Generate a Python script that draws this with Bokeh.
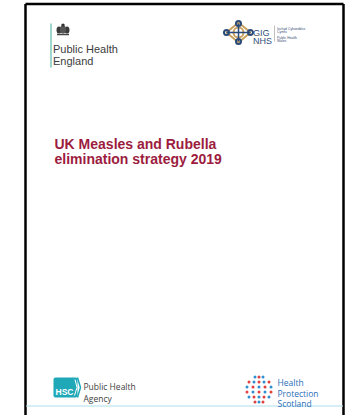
from bokeh.plotting import figure
from bokeh.embed import file_html
from bokeh.resources import INLINE
from bokeh.core.properties import value

# ---- content (texts) ----
phe_lines = ["Public Health", "England"]
title_lines = ["UK Measles and Rubella", "elimination strategy 2019"]
wales_big = ["GIG", "NHS"]
wales_small = ["CYMRU", "WALES"]
wales_side = ["Iechyd Cyhoeddus", "Cymru", "Public Health", "Wales"]
hsc_lines = ["Public Health", "Agency"]
hps_lines = ["Health", "Protection", "Scotland"]

W, H = 349, 415
p = figure(width=W, height=H, x_range=(0, W), y_range=(H, 0),
           output_backend="svg", toolbar_location=None,
           min_border=0, min_border_left=0, min_border_right=0,
           min_border_top=0, min_border_bottom=0)
p.axis.visible = False
p.grid.visible = False
p.outline_line_color = None
p.background_fill_color = "white"
p.border_fill_color = "white"

# page border (black) and faint bottom line
p.line([25, 25], [3.5, 420], line_color="black", line_width=2.5)
p.line([25, 343], [3.5, 3.5], line_color="black", line_width=2.5)
p.line([343, 343], [3.5, 420], line_color="black", line_width=2.5)
p.line([26, 342], [405.5, 405.5], line_color="#d6eef6", line_width=2)

# ---- Public Health England ----
p.line([50.5, 50.5], [23, 67], line_color="#7cc8bd", line_width=1.5)
# crest (approximation)
p.ellipse([58.5, 66.5], [29.5, 29.5], width=5, height=7, fill_color="#3a3a3a", line_color=None)
p.ellipse([62.5], [29], width=6, height=8, fill_color="#555555", line_color=None)
p.ellipse([62.5], [24.5], width=3.5, height=3, fill_color="#333333", line_color=None)
p.rect([62.5], [34], width=12, height=1.5, fill_color="#444444", line_color=None)
ph_font = value("Liberation Sans")
p.text([52.5, 52.5], [48.5, 60], text=phe_lines, text_font=ph_font, text_font_size="11px",
       text_color="#3c3c3c", text_baseline="alphabetic")

# ---- NHS Wales logo ----
cx, cy = 238, 32
p.patch([cx, cx + 12, cx, cx - 12], [cy - 10, cy, cy + 10, cy], fill_color=None,
        line_color="#c9a260", line_width=2)
p.ellipse([cx], [cy], width=10, height=10, fill_color=None, line_color="#c9a260", line_width=2)
p.ellipse([cx, cx + 12, cx, cx - 12], [cy - 9, cy, cy + 9, cy], width=5, height=5,
          fill_color=None, line_color="#2a4a7a", line_width=2)
p.line([cx - 12, cx + 12], [cy, cy], line_color="#2a4a7a", line_width=1.5)
p.line([cx, cx], [cy - 9, cy + 9], line_color="#2a4a7a", line_width=1.5)
p.text([252.5, 252.5], [32, 40.5], text=wales_big, text_font=value("Liberation Sans"),
       text_font_size="9px", text_color="#2f4f80", text_baseline="alphabetic")
p.text([253, 253], [34.5, 43], text=wales_small, text_font=value("Liberation Sans"),
       text_font_size="2.5px", text_color="#c9a260", text_baseline="alphabetic")
p.line([274, 274], [25, 41], line_color="#b0b0b0", line_width=0.8)
p.text([276.5] * 4, [28.5, 31.5, 37, 40], text=wales_side, text_font=value("Liberation Sans"),
       text_font_size="3.4px", text_color="#3a4f78", text_baseline="alphabetic")

# ---- Title ----
p.text([54, 54], [143.5, 158], text=title_lines, text_font=value("Liberation Sans"),
       text_font_size="14px", text_font_style="bold", text_color="#9c1c40",
       text_baseline="alphabetic")

# ---- HSC Public Health Agency ----
p.quad(left=[53], right=[77], top=[377], bottom=[397], fill_color="#1fa8b8",
       line_color=None, border_radius=2)
p.text([55], [391], text=["HSC"], text_font=value("Liberation Sans"), text_font_size="8.5px",
       text_font_style="bold", text_color="white", text_baseline="alphabetic")
p.line([74.5, 76.5, 74], [379, 387, 395], line_color="white", line_width=1)
p.line([77, 80, 77], [377, 387, 397], line_color="#1fa8b8", line_width=1.5)
p.text([83, 83], [386, 397.5], text=hsc_lines, text_font=value("Open Sans"),
       text_font_size="8.5px", text_color="#404040", text_baseline="alphabetic")

# ---- Health Protection Scotland ----
dx, dy = 258.5, 389
dot_x, dot_y, dot_c = [], [], []
rows = [(-12.5, [-4, 0, 4]), (-7.5, [-10, -5, 0, 5, 10]), (-2.5, [-12, -6, 0, 6, 12]),
        (2.5, [-12, -6, 0, 6, 12]), (7.5, [-10, -5, 0, 5, 10]), (12.5, [-4, 0, 4])]
k = 0
for ry, xs in rows:
    for rx in xs:
        dot_x.append(dx + rx)
        dot_y.append(dy + ry)
        dot_c.append("#e0403f" if k % 2 else "#2f8fd0")
        k += 1
p.scatter(dot_x, dot_y, size=3, fill_color=dot_c, line_color=None)
p.text([277, 277, 277], [382, 392.5, 403], text=hps_lines, text_font=value("Open Sans"),
       text_font_size="8.5px", text_color="#2a6fb8", text_baseline="alphabetic")

open("out.html", "w").write(file_html(p, INLINE))
